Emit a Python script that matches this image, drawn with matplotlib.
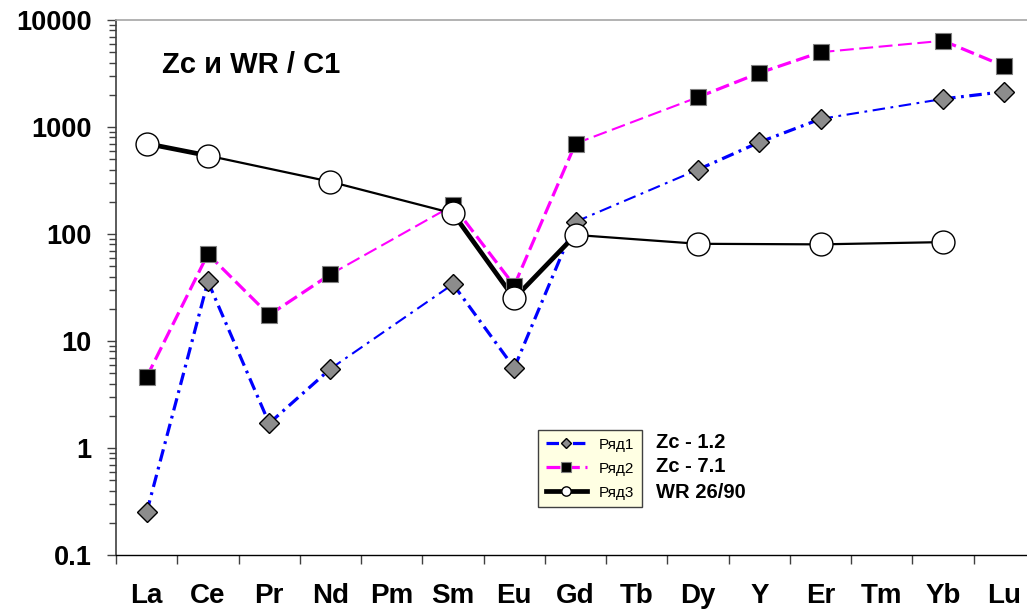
import numpy as np
import matplotlib
matplotlib.use('Agg')
import matplotlib.pyplot as plt
from matplotlib.lines import Line2D
from matplotlib.ticker import LogLocator, NullFormatter

plt.rcParams['font.family'] = ['Liberation Sans', 'DejaVu Sans']
plt.rcParams['lines.scale_dashes'] = False

# REE pattern, chondrite (C1) normalised
elements = ['La', 'Ce', 'Pr', 'Nd', 'Pm', 'Sm', 'Eu', 'Gd', 'Tb', 'Dy', 'Y', 'Er', 'Tm', 'Yb', 'Lu']
nan = np.nan
zc_1_2 = [0.25, 36, 1.7, 5.5, nan, 34, 5.6, 130, nan, 400, 720, 1190, nan, 1830, 2140]
zc_7_1 = [4.6, 65, 17.5, 42, nan, 185, 33, 700, nan, 1900, 3200, 5000, nan, 6400, 3700]
wr_26_90 = [700, 540, nan, 308, nan, 156, 25, 98, nan, 81, nan, 80, nan, 84, nan]

series_names = ['Ряд1', 'Ряд2', 'Ряд3']
series_notes = ['Zc - 1.2', 'Zc - 7.1', 'WR 26/90']
y_ticks = [0.1, 1, 10, 100, 1000, 10000]
y_ticklabels = ['0.1', '1', '10', '100', '1000', '10000']

styles = [
    dict(color='#0000FF', dashes=(9, 4, 2, 4), lw=(2.3, 1.5), marker='D', ms=10,
         mfc='#8c8c8c', mec='black', mew=1.0, lms=5.4),
    dict(color='#FF00FF', dashes=(10, 4), lw=(2.3, 1.5), marker='s', ms=11.5,
         mfc='black', mec='#7f7f7f', mew=0.8, lms=7.7),
    dict(color='black', dashes=None, lw=(3.4, 1.6), marker='o', ms=16.5,
         mfc='white', mec='black', mew=1.0, lms=6.7),
]

W, H = 1027, 610
fig = plt.figure(figsize=(W / 100, H / 100), dpi=100)
# plot box runs a bit past the right edge of the figure
ax = fig.add_axes([116 / W, (H - 555) / H, 919 / W, 535 / H])

x = np.arange(1, len(elements) + 1)
all_series = [zc_1_2, zc_7_1, wr_26_90]

# lines: neighbouring points get a heavier stroke than the joins across gaps
for vals, st in zip(all_series, styles):
    y = np.asarray(vals, dtype=float)
    idx = np.flatnonzero(~np.isnan(y))
    ls = (0, st['dashes']) if st['dashes'] else '-'
    for a, b in zip(idx[:-1], idx[1:]):
        lw = st['lw'][0] if b - a == 1 else st['lw'][1]
        ax.plot(x[[a, b]], y[[a, b]], color=st['color'], lw=lw, ls=ls,
                solid_capstyle='butt', dash_capstyle='butt', zorder=2)

for vals, st in zip(all_series, styles):
    y = np.asarray(vals, dtype=float)
    idx = np.flatnonzero(~np.isnan(y))
    ax.plot(x[idx], y[idx], ls='none', marker=st['marker'], ms=st['ms'],
            mfc=st['mfc'], mec=st['mec'], mew=st['mew'], zorder=3, clip_on=False)

ax.set_yscale('log')
ax.set_ylim(0.1, 10000)
ax.set_xlim(0.5, len(elements) + 0.5)

ax.set_xticks(x)
ax.set_xticklabels(elements, fontsize=20, fontweight='bold')
ax.set_xticks(np.arange(0.5, len(elements) + 1, 1), minor=True)
ax.tick_params(axis='x', which='major', length=0, pad=20)
ax.tick_params(axis='x', which='minor', length=6.5, width=1, color='#404040', direction='out')

ax.set_yticks(y_ticks)
ax.set_yticklabels(y_ticklabels, fontsize=19.5, fontweight='bold')
ax.yaxis.set_minor_locator(LogLocator(base=10, subs=np.arange(2, 10)))
ax.yaxis.set_minor_formatter(NullFormatter())
ax.tick_params(axis='y', which='major', length=6.5, width=1, color='#404040', pad=11)
ax.tick_params(axis='y', which='minor', length=5, width=1, color='#404040')

ax.spines['left'].set_color('#404040')
ax.spines['left'].set_linewidth(1.2)
ax.spines['bottom'].set_color('black')
ax.spines['bottom'].set_linewidth(1.0)
ax.spines['top'].set_color('#a6a6a6')
ax.spines['top'].set_linewidth(1.2)
ax.spines['right'].set_visible(False)

fig.text(162 / W, 1 - 65 / H, 'Zc и WR / C1', fontsize=21, fontweight='bold',
         ha='left', va='center')

handles = []
for st, name in zip(styles, series_names):
    ls = (0, st['dashes']) if st['dashes'] else '-'
    handles.append(Line2D([], [], color=st['color'], lw=st['lw'][0], ls=ls,
                          marker=st['marker'], ms=st['lms'], mfc=st['mfc'],
                          mec=st['mec'], mew=st['mew'], label=name))
leg = ax.legend(handles=handles, loc='upper left', bbox_to_anchor=(538 / W, 1 - 430 / H),
                bbox_transform=fig.transFigure, fontsize=11, frameon=True, fancybox=False,
                handlelength=2.7, handletextpad=0.8, labelspacing=0.65, borderpad=0.5,
                borderaxespad=0)
leg.get_frame().set_facecolor('#FFFFE3')
leg.get_frame().set_edgecolor('#404040')
leg.get_frame().set_linewidth(1.0)
leg.get_frame().set_alpha(1)

for note, yy in zip(series_notes, [443, 467, 492]):
    fig.text(656 / W, 1 - yy / H, note, fontsize=14.5, fontweight='bold',
             ha='left', va='center')

fig.savefig('out.png', dpi=100)
